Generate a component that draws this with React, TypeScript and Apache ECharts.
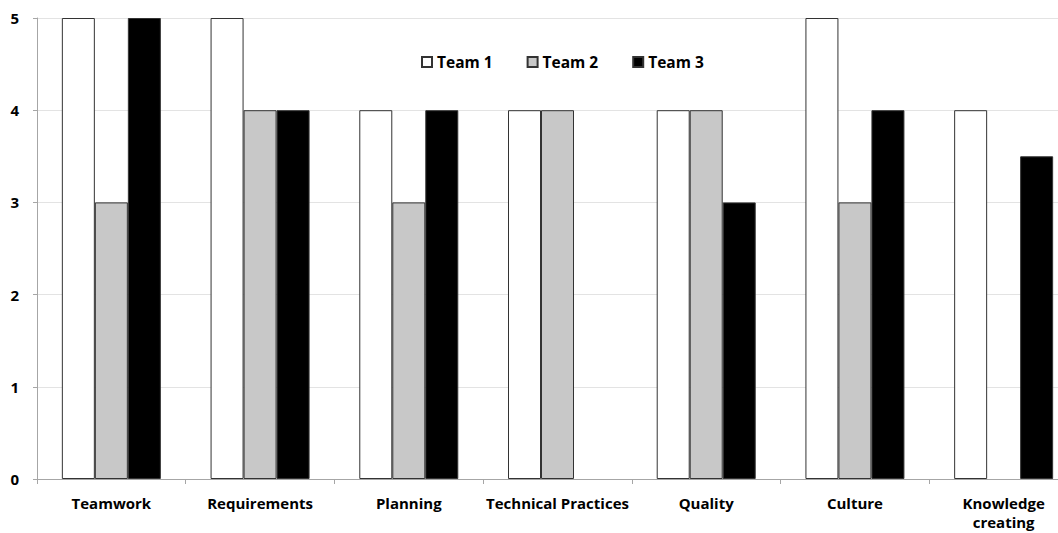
import React, { useEffect, useRef } from "react";
import * as echarts from "echarts";

const categories = [
  "Teamwork",
  "Requirements",
  "Planning",
  "Technical Practices",
  "Quality",
  "Culture",
  "Knowledge\ncreating",
];
const team1 = [5, 5, 4, 4, 4, 5, 4];
const team2: (number | null)[] = [3, 4, 3, 4, 4, 3, null];
const team3: (number | null)[] = [5, 4, 4, null, 3, 4, 3.5];
const yTicks = [0, 1, 2, 3, 4, 5];

const FONT = "'Open Sans', 'Liberation Sans', sans-serif";

export default function App() {
  const ref = useRef<HTMLDivElement>(null);

  useEffect(() => {
    if (!ref.current) return;
    const chart = echarts.init(ref.current, undefined, { renderer: "svg" });
    const barStyle = (color: string) => ({
      color,
      borderColor: "#333333",
      borderWidth: 1,
    });
    chart.setOption({
      animation: false,
      backgroundColor: "#ffffff",
      legend: {
        top: 49,
        left: 416,
        icon: "rect",
        itemWidth: 10,
        itemHeight: 10,
        itemGap: 34,
        textStyle: {
          fontFamily: FONT,
          fontWeight: "bold",
          fontSize: 15.5,
          color: "#000",
        },
        data: ["Team 1", "Team 2", "Team 3"],
      },
      // plot area runs past the right edge; the last category is partly clipped
      grid: { left: 37, top: 18, width: 1041, height: 461, containLabel: false },
      xAxis: {
        type: "category",
        data: categories,
        axisLine: { show: true, lineStyle: { color: "#a6a6a6", width: 1 } },
        axisTick: { show: true, length: 5, lineStyle: { color: "#a6a6a6" } },
        axisLabel: {
          fontFamily: FONT,
          fontWeight: "bold",
          fontSize: 15,
          color: "#000",
          margin: 14,
          lineHeight: 19,
          interval: 0,
        },
      },
      yAxis: {
        type: "value",
        min: yTicks[0],
        max: yTicks[yTicks.length - 1],
        interval: 1,
        axisLine: { show: true, lineStyle: { color: "#a6a6a6", width: 1 } },
        axisTick: { show: true, length: 4, lineStyle: { color: "#a6a6a6" } },
        splitLine: { show: true, lineStyle: { color: "#e3e3e3", width: 1 } },
        axisLabel: {
          fontFamily: FONT,
          fontWeight: "bold",
          fontSize: 15,
          color: "#000",
          margin: 18,
        },
      },
      series: [
        {
          name: "Team 1",
          type: "bar",
          data: team1,
          barWidth: 33,
          barGap: "0%",
          itemStyle: barStyle("#ffffff"),
        },
        {
          name: "Team 2",
          type: "bar",
          data: team2,
          barWidth: 33,
          barGap: "0%",
          itemStyle: barStyle("#c8c8c8"),
        },
        {
          name: "Team 3",
          type: "bar",
          data: team3,
          barWidth: 33,
          barGap: "0%",
          itemStyle: barStyle("#000000"),
        },
      ],
    });
    return () => chart.dispose();
  }, []);

  return (
    <div
      style={{
        position: "fixed",
        left: 0,
        top: 0,
        width: 1058,
        height: 533,
        overflow: "hidden",
      }}
    >
      <div ref={ref} style={{ width: 1080, height: 533 }} />
    </div>
  );
}
